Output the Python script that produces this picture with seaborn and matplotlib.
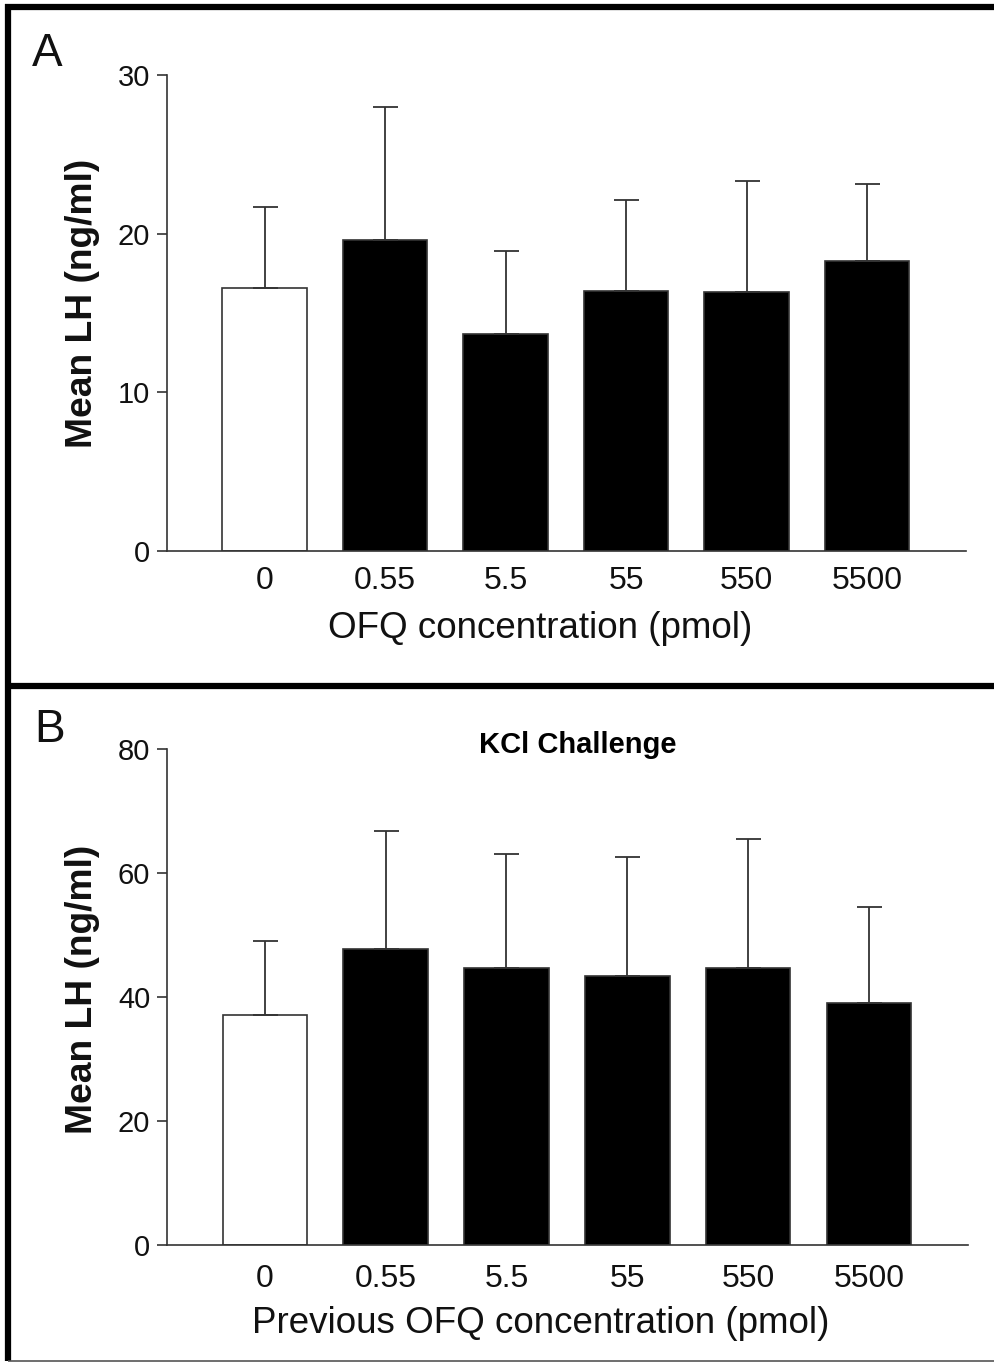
import matplotlib
matplotlib.use("Agg")
import matplotlib.pyplot as plt
import seaborn as sns
import numpy as np
import pandas as pd
from matplotlib.lines import Line2D

categories = ["0", "0.55", "5.5", "55", "550", "5500"]
lh_a = [16.6, 19.6, 13.7, 16.4, 16.3, 18.3]
err_top_a = [21.7, 28.0, 18.9, 22.1, 23.3, 23.1]
lh_b = [37.1, 47.7, 44.7, 43.4, 44.7, 39.0]
err_top_b = [49.0, 66.8, 63.1, 62.6, 65.5, 54.5]
bar_colors = ["white", "black", "black", "black", "black", "black"]

sns.set_theme(style="white")
plt.rcParams['font.family'] = ['Liberation Sans', 'DejaVu Sans']

W, H = 995, 1363
fig = plt.figure(figsize=(W / 100, H / 100), dpi=100)

axA = fig.add_axes([167 / W, 1 - 551 / H, 799 / W, 476 / H])
axB = fig.add_axes([167 / W, 1 - 1245 / H, 801 / W, 496 / H])

line_col = "#333333"
txt_col = "#111111"

def draw(ax, vals, tops, ymax, step, xlabel, xpad, ylab_y, xlab_xy):
    df = pd.DataFrame({"cat": categories, "val": vals})
    sns.barplot(data=df, x="cat", y="val", hue="cat", palette=bar_colors,
                order=categories, hue_order=categories, legend=False,
                width=0.7, edgecolor=line_col, linewidth=1.2, ax=ax, saturation=1)
    xs = np.arange(len(categories))
    v = np.array(vals)
    t = np.array(tops)
    ax.errorbar(xs, v, yerr=[np.zeros_like(v), t - v], fmt="none",
                ecolor=line_col, elinewidth=1.3, capsize=9, capthick=1.3, zorder=1)
    ax.set_xlim(-0.81, 5.82)
    ax.set_ylim(0, ymax)
    ax.set_yticks(np.arange(0, ymax + 1, step))
    for s in ["top", "right"]:
        ax.spines[s].set_visible(False)
    for s in ["left", "bottom"]:
        ax.spines[s].set_color(line_col)
        ax.spines[s].set_linewidth(1.2)
    ax.tick_params(axis="y", left=True, length=7, width=1.2, color=line_col,
                   labelsize=21, pad=5, labelcolor=txt_col)
    ax.tick_params(axis="x", bottom=False, labelsize=23, pad=xpad, labelcolor=txt_col)
    ax.set_xlabel(xlabel, fontsize=26.5, color=txt_col, va="center")
    ax.xaxis.set_label_coords(*xlab_xy)
    ax.set_ylabel("Mean LH (ng/ml)", fontsize=26.8, fontweight="bold", color=txt_col,
                  va="center", ha="center")
    ax.yaxis.set_label_coords(-0.106, ylab_y)

draw(axA, lh_a, err_top_a, 30, 10, "OFQ concentration (pmol)", 5, 0.52, (0.467, -0.163))
draw(axB, lh_b, err_top_b, 80, 20, "Previous OFQ concentration (pmol)", 8, 0.516,
     (0.466, -0.159))

axB.text(0.513, 1.008, "KCl Challenge", transform=axB.transAxes, ha="center", va="center",
         fontsize=21, fontweight="bold", color="black")

fig.text(32 / W, 1 - 66 / H, "A", fontsize=33, color=txt_col)
fig.text(34 / W, 1 - 742 / H, "B", fontsize=33, color=txt_col)

# panel borders
fig.add_artist(Line2D([5 / W, 1], [1 - 7 / H, 1 - 7 / H], color="black", lw=4.5,
                      transform=fig.transFigure, solid_capstyle="butt"))
fig.add_artist(Line2D([8 / W, 8 / W], [1 - 4 / H, 1 - 1361 / H], color="black", lw=4.5,
                      transform=fig.transFigure, solid_capstyle="butt"))
fig.add_artist(Line2D([8 / W, 1], [1 - 686 / H, 1 - 686 / H], color="black", lw=4.5,
                      transform=fig.transFigure, solid_capstyle="butt"))
fig.add_artist(Line2D([8 / W, 1], [1 - 1361 / H, 1 - 1361 / H], color="#555555", lw=1.2,
                      transform=fig.transFigure, solid_capstyle="butt"))

fig.savefig("out.png", dpi=100, facecolor="white")
